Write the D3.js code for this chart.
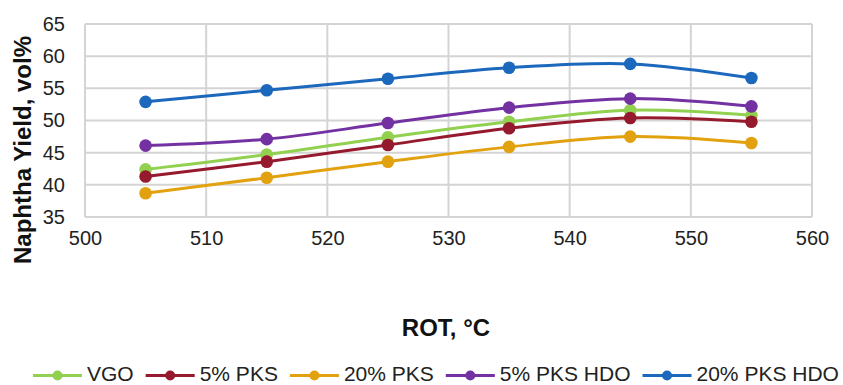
<!DOCTYPE html>
<html>
<head>
<meta charset="utf-8">
<script src="https://cdn.jsdelivr.net/npm/d3@7"></script>
<style>
  html, body { margin: 0; padding: 0; background: #ffffff; }
  svg { display: block; font-family: "Liberation Sans", Arial, sans-serif; }
</style>
</head>
<body>
<svg id="chart" width="843" height="385"></svg>
<script>
// Reactor outlet temperature (°C) and naphtha yield (vol%) per feed blend
const rot = [505, 515, 525, 535, 545, 555];
const vgo = [42.4, 44.7, 47.4, 49.8, 51.6, 50.8];
const pks5 = [41.3, 43.6, 46.2, 48.8, 50.4, 49.8];
const pks20 = [38.7, 41.1, 43.6, 45.9, 47.5, 46.5];
const pks5Hdo = [46.1, 47.1, 49.6, 52.0, 53.4, 52.2];
const pks20Hdo = [52.9, 54.7, 56.5, 58.2, 58.8, 56.6];

const seriesNames = ["VGO", "5% PKS", "20% PKS", "5% PKS HDO", "20% PKS HDO"];
const seriesValues = [vgo, pks5, pks20, pks5Hdo, pks20Hdo];
const seriesColors = ["#92d050", "#961a2e", "#e2a10e", "#7331a1", "#1b68bd"];

const xTicks = [500, 510, 520, 530, 540, 550, 560];
const yTicks = [35, 40, 45, 50, 55, 60, 65];

const svg = d3.select("#chart");
const plot = { left: 85, right: 812, top: 24, bottom: 217 };

const x = d3.scaleLinear().domain([500, 560]).range([plot.left, plot.right]);
const y = d3.scaleLinear().domain([35, 65]).range([plot.bottom, plot.top]);

const gridColor = "#d4d4d4";

// Grid lines
svg.append("g").selectAll("line").data(xTicks).join("line")
  .attr("x1", d => x(d)).attr("x2", d => x(d))
  .attr("y1", plot.top).attr("y2", plot.bottom)
  .attr("stroke", gridColor).attr("stroke-width", 2);
svg.append("g").selectAll("line").data(yTicks).join("line")
  .attr("x1", plot.left).attr("x2", plot.right)
  .attr("y1", d => y(d)).attr("y2", d => y(d))
  .attr("stroke", gridColor).attr("stroke-width", 2);

// Axes (labels only; grid draws the frame)
const xAxis = svg.append("g")
  .attr("transform", `translate(0,${plot.bottom})`)
  .call(d3.axisBottom(x).tickValues(xTicks).tickSize(0).tickPadding(14).tickFormat(d3.format("d")));
const yAxis = svg.append("g")
  .attr("transform", `translate(${plot.left},0)`)
  .call(d3.axisLeft(y).tickValues(yTicks).tickSize(0).tickPadding(20).tickFormat(d3.format("d")));
[xAxis, yAxis].forEach(g => {
  g.select(".domain").remove();
  g.selectAll("text").attr("font-size", 20).attr("fill", "#222")
    .attr("font-family", "'Liberation Sans', Arial, sans-serif");
});

// Series lines (smoothed) and markers
const line = d3.line()
  .x((d, i) => x(rot[i]))
  .y(d => y(d))
  .curve(d3.curveCatmullRom.alpha(0));

seriesValues.forEach((vals, k) => {
  const g = svg.append("g");
  g.append("path").datum(vals)
    .attr("d", line)
    .attr("fill", "none")
    .attr("stroke", seriesColors[k])
    .attr("stroke-width", 3)
    .attr("stroke-linejoin", "round");
  g.selectAll("circle").data(vals).join("circle")
    .attr("cx", (d, i) => x(rot[i]))
    .attr("cy", d => y(d))
    .attr("r", 6.3)
    .attr("fill", seriesColors[k]);
});

// Axis titles
svg.append("text")
  .attr("x", 446).attr("y", 336)
  .attr("text-anchor", "middle")
  .attr("font-size", 24).attr("font-weight", "bold").attr("fill", "#111")
  .text("ROT, °C");

svg.append("text")
  .attr("transform", "translate(31,150) rotate(-90)")
  .attr("text-anchor", "middle")
  .attr("font-size", 24).attr("font-weight", "bold").attr("fill", "#111")
  .text("Naphtha Yield, vol%");

// Legend
const legend = svg.append("g");
const legendY = 375.5;
let lx = 33;
seriesNames.forEach((name, k) => {
  const item = legend.append("g");
  item.append("line")
    .attr("x1", lx).attr("x2", lx + 49)
    .attr("y1", legendY).attr("y2", legendY)
    .attr("stroke", seriesColors[k]).attr("stroke-width", 3);
  item.append("circle")
    .attr("cx", lx + 24.5).attr("cy", legendY).attr("r", 5)
    .attr("fill", seriesColors[k]);
  const t = item.append("text")
    .attr("x", lx + 54).attr("y", legendY + 5)
    .attr("font-size", 21).attr("fill", "#222")
    .text(name);
  lx += 54 + t.node().getComputedTextLength() + 12;
});
</script>
</body>
</html>
